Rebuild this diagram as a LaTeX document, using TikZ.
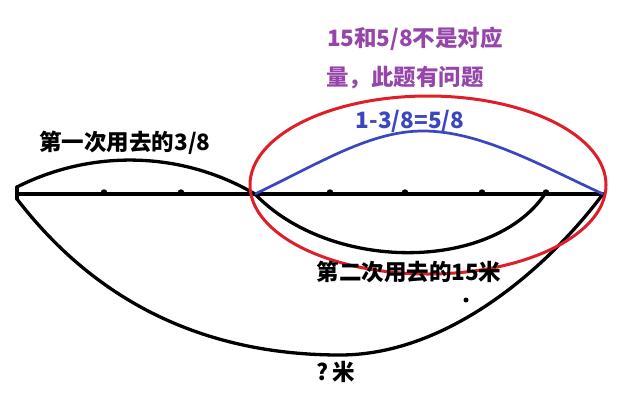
\documentclass[tikz,border=0pt]{standalone}
\usepackage{fontspec}
\newfontfamily\cjk{Noto Sans CJK SC}
\definecolor{myred}{RGB}{222,30,40}
\definecolor{myblue}{RGB}{60,70,190}
\definecolor{mypurple}{RGB}{150,70,170}
\begin{document}
\begin{tikzpicture}[x=1pt,y=-1pt,
  blk/.style={line width=3.3pt,black,line cap=round,line join=round},
  tick/.style={circle,fill=black,inner sep=0pt,minimum size=6.5pt},
  lbl/.style={font=\cjk\bfseries\fontsize{22.5}{26}\selectfont,inner sep=0pt,anchor=center}]
\useasboundingbox (0,0) rectangle (620,405);
\fill[white] (0,0) rectangle (620,405);
% key points
\coordinate (L) at (17,194);
\coordinate (Lt) at (17,187);
\coordinate (Lb) at (17,199);
\coordinate (M) at (255,194);
\coordinate (R) at (603,194);
% main line and ticks
\draw[blk] (L) -- (R);
\draw[blk] (Lt) -- (Lb);
\foreach \i/\x in {1/104,2/181,3/330,4/405,5/482,6/546}
  \node[tick] (d\i) at (\x,192.5) {};
% first used 3/8
\draw[blk] (Lt) .. controls (90,150) and (180,150) .. (M);
% second used 15 m
\draw[blk] (M) .. controls (330,272) and (490,272) .. (d6);
% total ? m
\coordinate (B) at (340,355);
\draw[blk] (Lb) .. controls (110,320) and (230,355) .. (B) .. controls (450,355) and (550,265) .. (R);
% blue arc
\coordinate (P) at (423,131);
\draw[myblue,line width=2.7pt] (M) .. controls (320,163) and (370,131) .. (P) .. controls (480,131) and (540,165) .. (R);
% red ellipse
\draw[myred,line width=3pt] (428,185) ellipse [x radius=178, y radius=89];
% small dot
\node[tick,minimum size=5pt] (sd) at (466,300) {};
% labels
\node[lbl] (t1) at (125,143) {第一次用去的3/8};
\node[lbl,text=mypurple] (p1) at (415,39) {15和5/8不是对应};
\node[lbl,text=mypurple] (p2) at (405,78) {量，此题有问题};
\node[lbl,text=myblue] (b1) at (410,121) {1-3/8=5/8};
\node[lbl] (t2) at (409,272) {第二次用去的15米};
\node[lbl] (t3) at (336,372) {?\,米};
\end{tikzpicture}
\end{document}
